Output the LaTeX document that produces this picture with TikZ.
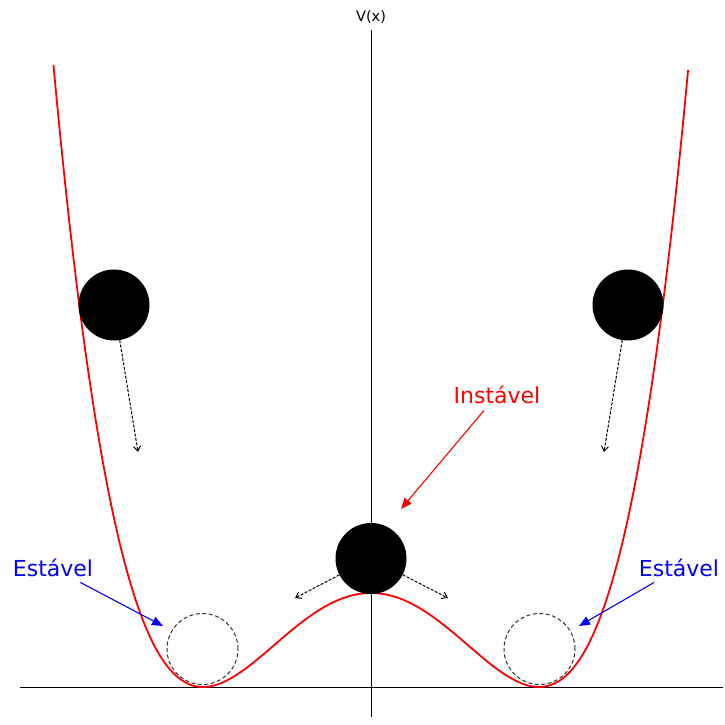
\documentclass[tikz,border=0pt]{standalone}
\usepackage{fontspec}
\setmainfont{DejaVu Sans}
\usetikzlibrary{arrows.meta}

\begin{document}
\begin{tikzpicture}[
  x=1pt, y=1pt,
  axis/.style={line width=0.8pt},
  potential/.style={red, line width=1.8pt},
  ball/.style={circle, fill=black, minimum size=71pt, inner sep=0pt},
  ghost/.style={circle, draw=black!80, line width=1pt, dash pattern=on 4pt off 2.5pt, minimum size=71pt, inner sep=0pt},
  fall/.style={line width=1pt, dash pattern=on 3pt off 1.5pt, -{Straight Barb[length=5pt, width=7pt]}},
  lbl/.style={font=\fontsize{22}{26}\selectfont},
  pointer/.style={line width=1.1pt, -{Triangle[length=11pt, width=9pt]}, shorten <=4pt},
]
\useasboundingbox (-371,-37) rectangle (354,687);

% axes
\coordinate (xl) at (-351,0);
\coordinate (xr) at (352,0);
\coordinate (yb) at (0,-30);
\coordinate (yt) at (0,657);
\draw[axis] (xl) -- (xr);
\draw[axis] (yb) -- (yt);
\node[font=\fontsize{14.5}{17}\selectfont] (vlab) at (0,670) {V(x)};

% double well
\draw[potential] plot[domain=-1.89:1.89, samples=200, smooth] ({168*\x},{94*(\x*\x-1)^2});

% balls
\node[ball] (lball) at (-257,382) {};
\node[ball] (rball) at (257,382) {};
\node[ball] (cball) at (0,128.5) {};
\node[ghost] (lrest) at (-168.5,38) {};
\node[ghost] (rrest) at (168.5,38) {};

% where they roll
\coordinate (lend) at (-233,235);
\coordinate (rend) at (233,235);
\coordinate (clend) at (-76,89);
\coordinate (crend) at (77,89);
\draw[fall] (lball) -- (lend);
\draw[fall] (rball) -- (rend);
\draw[fall] (cball) -- (clend);
\draw[fall] (cball) -- (crend);

% labels
\node[lbl, text=red] (inst) at (126,292) {Instável};
\node[lbl, text=blue] (lest) at (-318,119) {Estável};
\node[lbl, text=blue] (rest) at (308,119) {Estável};
\coordinate (insttip) at (30,178);
\coordinate (ltip) at (-208,61);
\coordinate (rtip) at (208,61);
\draw[pointer, red] (inst) -- (insttip);
\draw[pointer, blue] (lest) -- (ltip);
\draw[pointer, blue] (rest) -- (rtip);
\end{tikzpicture}
\end{document}
